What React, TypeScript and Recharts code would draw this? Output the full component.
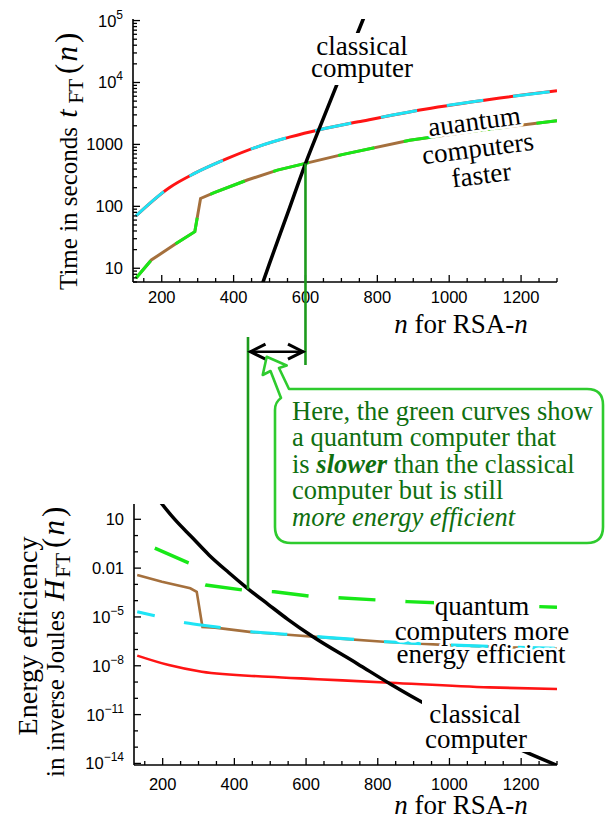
import React from "react";
import { LineChart, Line, XAxis, YAxis } from "recharts";

const SERIF = "Liberation Serif, Tinos, Times New Roman, DejaVu Serif, serif";
const SANS = "Liberation Sans, Arimo, Arial, Helvetica, sans-serif";

// ---------- shared x axis (RSA key size n) ----------
const X_DOMAIN: [number, number] = [120, 1300];
const xMajorTicks = [200, 400, 600, 800, 1000, 1200];
const xMinorTicks = [150, 250, 300, 350, 450, 500, 550, 650, 700, 750, 850, 900, 950, 1050, 1100, 1150, 1250, 1300];

// ---------- top chart: time in seconds ----------
const TIME_DOMAIN: [number, number] = [6, 106000];
const timeMajorTicks = [10, 100, 1000, 10000, 100000];
const timeTickLabels = [["10", ""], ["100", ""], ["1000", ""], ["10", "4"], ["10", "5"]];
const timeMinorTicks = [6, 7, 8, 9, 20, 30, 40, 50, 60, 70, 80, 90, 200, 300, 400, 500, 600, 700, 800, 900,
  2000, 3000, 4000, 5000, 6000, 7000, 8000, 9000, 20000, 30000, 40000, 50000, 60000, 70000, 80000, 90000];

const timeRedN = [128, 221, 291, 383, 466, 558, 642, 747, 932, 1117, 1300];
const timeRedV = [70, 200, 340, 594, 915, 1325, 1745, 2315, 3710, 5380, 7350];
const timeBrownN = [128, 171, 240, 292, 308, 346, 438, 522, 600, 705, 890, 1076, 1300];
const timeBrownV = [6.9, 13.6, 25, 39, 134, 166, 266, 385, 494, 690, 1170, 1660, 2420];
const timeClassicalN = [460, 500, 550, 600, 640, 700, 760, 800];
const timeClassicalV = [2.6, 12, 76, 490, 1900, 14000, 103000, 370000];

// ---------- bottom chart: energy efficiency ----------
const EFF_DOMAIN: [number, number] = [8e-15, 87];
const effMajorTicks = [10, 0.01, 1e-5, 1e-8, 1e-11, 1e-14];
const effTickLabels = [["10", ""], ["0.01", ""], ["10", "\u22125"], ["10", "\u22128"], ["10", "\u221211"], ["10", "\u221214"]];
const effMinorTicks = [1, 0.1, 1e-3, 1e-4, 1e-6, 1e-7, 1e-9, 1e-10, 1e-12, 1e-13];

const effClassicalN = [175, 198, 235, 281, 329, 384, 439, 495, 550, 614, 744, 835, 938, 1085, 1223, 1300];
const effClassicalV = [400, 87, 9.1, 0.81, 0.065, 5.4e-3, 5.2e-4, 5.8e-5, 6.9e-6, 7.2e-7, 1.3e-8, 7.6e-10, 3.9e-11, 9.8e-13, 4.0e-14, 7.6e-15];
const effGreenN = [129, 178, 272, 290, 309, 320, 425, 512, 609, 799, 882, 1300];
const effGreenV = [0.47, 0.17, 0.021, 0.015, 1.1e-3, 9.1e-4, 4.5e-4, 3.5e-4, 1.9e-4, 1.1e-4, 8.7e-5, 3.9e-5];
const effCyanN = [129, 180, 263, 346, 448, 549, 637, 826, 1011, 1300];
const effCyanV = [2.1e-5, 1.15e-5, 4.4e-6, 2.5e-6, 1.23e-6, 8.5e-7, 6.0e-7, 3.0e-7, 1.86e-7, 1.17e-7];
const effBrownN = [129, 198, 277, 295, 311, 346, 448, 549, 637, 826, 1011, 1300];
const effBrownV = [3.8e-3, 1.45e-3, 5.8e-4, 3.5e-4, 2.4e-6, 2.2e-6, 1.17e-6, 8.1e-7, 5.75e-7, 2.9e-7, 1.78e-7, 1.1e-7];
const effRedN = [129, 217, 309, 494, 632, 835, 1112, 1300];
const effRedV = [4.2e-8, 1.1e-8, 4.3e-9, 2.1e-9, 1.5e-9, 9.1e-10, 4.7e-10, 3.7e-10];

// annotation anchors
const slowEfficientN = 438;
const slowEfficientEff = 5.0e-4;
const equalSpeedN = 600;
const equalSpeedTime = 494;

// ---------- layout ----------
const TOP_PLOT = { left: 133, right: 557, top: 19, bottom: 282 };
const TOP_H = 310;
const BOT_Y0 = 470;
const BOT_H = 330;
const BOT_PLOT = { left: 134, right: 557, top: 504, bottom: 765 };

const RED = "#ff1414";
const CYAN = "#1ee4f5";
const BROWN = "#a5703d";
const LIME = "#18e818";
const DKGREEN = "#1c9a1c";

const pts = (ns: number[], vs: number[]) => ns.map((n, i) => ({ n, v: vs[i] }));

const xPx = (plot: any, n: number) =>
  plot.left + ((n - X_DOMAIN[0]) / (X_DOMAIN[1] - X_DOMAIN[0])) * (plot.right - plot.left);
const yPxLog = (plot: any, dom: [number, number], v: number) =>
  plot.top +
  ((Math.log10(dom[1]) - Math.log10(v)) / (Math.log10(dom[1]) - Math.log10(dom[0]))) * (plot.bottom - plot.top);

const near = (a: number, b: number) => Math.abs(a - b) <= Math.abs(b) * 1e-6;

const serifStyle = { fontFamily: SERIF };
const sansStyle = { fontFamily: SANS };

function makeXTick(dir: number, showLabels: boolean, labelDy: number) {
  return (p: any) => {
    const v = p.payload.value;
    const major = xMajorTicks.some((m) => near(v, m));
    const len = major ? 7 : 4;
    return (
      <g>
        <line x1={p.x} x2={p.x} y1={p.y} y2={p.y + dir * len} stroke="#000" strokeWidth={1.3} />
        {showLabels && major && (
          <text x={p.x} y={p.y + labelDy} textAnchor="middle" style={sansStyle} fontSize={16.5} fill="#000">
            {v}
          </text>
        )}
      </g>
    );
  };
}

function makeYTick(majors: number[], labels: string[][] | null, dir: number) {
  return (p: any) => {
    const v = p.payload.value;
    const idx = majors.findIndex((m) => near(v, m));
    const major = idx >= 0;
    const len = major ? 7 : 4;
    return (
      <g>
        <line x1={p.x} x2={p.x + dir * len} y1={p.y} y2={p.y} stroke="#000" strokeWidth={1.3} />
        {labels && major && (
          <text x={p.x - 10} y={p.y + 6} textAnchor="end" style={sansStyle} fontSize={16.5} fill="#000">
            {labels[idx][0]}
            {labels[idx][1] ? (
              <tspan dy={-8} fontSize={12}>
                {labels[idx][1]}
              </tspan>
            ) : null}
          </text>
        )}
      </g>
    );
  };
}

const allX = [...xMajorTicks, ...xMinorTicks].sort((a, b) => a - b);
const allTime = [...timeMajorTicks, ...timeMinorTicks].sort((a, b) => a - b);
const allEff = [...effMajorTicks, ...effMinorTicks].sort((a, b) => a - b);

const axisLine = { stroke: "#000", strokeWidth: 1.6 };

function TopChart() {
  return (
    <LineChart
      width={611}
      height={TOP_H}
      margin={{ top: TOP_PLOT.top, right: 611 - TOP_PLOT.right, bottom: 0, left: 0 }}
    >
      <XAxis xAxisId="b" dataKey="n" type="number" domain={X_DOMAIN} allowDataOverflow ticks={allX} interval={0}
        height={TOP_H - TOP_PLOT.bottom} tickSize={0} tickMargin={0} tickLine={false} axisLine={axisLine}
        tick={makeXTick(-1, true, 21)} />
      <XAxis xAxisId="t" orientation="top" dataKey="n" type="number" domain={X_DOMAIN} allowDataOverflow ticks={allX}
        interval={0} height={0} tickSize={0} tickMargin={0} tickLine={false} axisLine={axisLine}
        tick={makeXTick(1, false, 0)} />
      <YAxis yAxisId="l" type="number" scale="log" domain={TIME_DOMAIN} allowDataOverflow ticks={allTime} interval={0}
        width={TOP_PLOT.left} tickSize={0} tickMargin={0} tickLine={false} axisLine={axisLine}
        tick={makeYTick(timeMajorTicks, timeTickLabels, 1)} />
      <YAxis yAxisId="r" orientation="right" type="number" scale="log" domain={TIME_DOMAIN} allowDataOverflow
        ticks={allTime} interval={0} width={0} tickSize={0} tickMargin={0} tickLine={false} axisLine={axisLine}
        tick={makeYTick(timeMajorTicks, null, -1)} />
      <Line xAxisId="b" yAxisId="l" data={pts(timeRedN, timeRedV)} dataKey="v" stroke={RED} strokeWidth={3}
        dot={false} isAnimationActive={false} type="monotone" />
      <Line xAxisId="b" yAxisId="l" data={pts(timeRedN, timeRedV)} dataKey="v" stroke={CYAN} strokeWidth={3}
        strokeDasharray="37 30" dot={false} isAnimationActive={false} type="monotone" />
      <Line xAxisId="b" yAxisId="l" data={pts(timeBrownN, timeBrownV)} dataKey="v" stroke={BROWN} strokeWidth={3}
        dot={false} isAnimationActive={false} type="linear" />
      <Line xAxisId="b" yAxisId="l" data={pts(timeBrownN, timeBrownV)} dataKey="v" stroke={LIME} strokeWidth={3}
        strokeDasharray="37 30" strokeDashoffset={14} dot={false} isAnimationActive={false} type="linear" />
      <Line xAxisId="b" yAxisId="l" data={pts(timeClassicalN, timeClassicalV)} dataKey="v" stroke="#000"
        strokeWidth={3.5} dot={false} isAnimationActive={false} type="monotone" />
    </LineChart>
  );
}

function BottomChart() {
  const rel = BOT_PLOT.top - BOT_Y0;
  return (
    <LineChart
      width={611}
      height={BOT_H}
      margin={{ top: rel, right: 611 - BOT_PLOT.right, bottom: 0, left: 0 }}
    >
      <XAxis xAxisId="b" dataKey="n" type="number" domain={X_DOMAIN} allowDataOverflow ticks={allX} interval={0}
        height={BOT_Y0 + BOT_H - BOT_PLOT.bottom} tickSize={0} tickMargin={0} tickLine={false} axisLine={axisLine}
        tick={makeXTick(-1, true, 25)} />
      <XAxis xAxisId="t" orientation="top" dataKey="n" type="number" domain={X_DOMAIN} allowDataOverflow ticks={allX}
        interval={0} height={0} tickSize={0} tickMargin={0} tickLine={false} axisLine={axisLine}
        tick={makeXTick(1, false, 0)} />
      <YAxis yAxisId="l" type="number" scale="log" domain={EFF_DOMAIN} allowDataOverflow ticks={allEff} interval={0}
        width={BOT_PLOT.left} tickSize={0} tickMargin={0} tickLine={false} axisLine={axisLine}
        tick={makeYTick(effMajorTicks, effTickLabels, 1)} />
      <YAxis yAxisId="r" orientation="right" type="number" scale="log" domain={EFF_DOMAIN} allowDataOverflow
        ticks={allEff} interval={0} width={0} tickSize={0} tickMargin={0} tickLine={false} axisLine={axisLine}
        tick={makeYTick(effMajorTicks, null, -1)} />
      <Line xAxisId="b" yAxisId="l" data={pts(effRedN, effRedV)} dataKey="v" stroke={RED} strokeWidth={2.6}
        dot={false} isAnimationActive={false} type="monotone" />
      <Line xAxisId="b" yAxisId="l" data={pts(effBrownN, effBrownV)} dataKey="v" stroke={BROWN} strokeWidth={2.6}
        dot={false} isAnimationActive={false} type="linear" />
      <Line xAxisId="b" yAxisId="l" data={pts(effCyanN, effCyanV)} dataKey="v" stroke={CYAN} strokeWidth={3.2}
        strokeDasharray="37 30" strokeDashoffset={19} dot={false} isAnimationActive={false} type="monotone" />
      <Line xAxisId="b" yAxisId="l" data={pts(effGreenN, effGreenV)} dataKey="v" stroke={LIME} strokeWidth={3.4}
        strokeDasharray="37 30" strokeDashoffset={48} dot={false} isAnimationActive={false} type="linear" />
      <Line xAxisId="b" yAxisId="l" data={pts(effClassicalN, effClassicalV)} dataKey="v" stroke="#000"
        strokeWidth={3.5} dot={false} isAnimationActive={false} type="monotone" />
    </LineChart>
  );
}

function Overlay() {
  const lineAx = xPx(BOT_PLOT, slowEfficientN);
  const lineAy = yPxLog(BOT_PLOT, EFF_DOMAIN, slowEfficientEff);
  const lineBx = xPx(TOP_PLOT, equalSpeedN);
  const lineBy = yPxLog(TOP_PLOT, TIME_DOMAIN, equalSpeedTime);
  const arrowY = 351.7;
  const a1 = lineAx + 1.5;
  const a2 = lineBx - 1.5;
  const halo = { stroke: "#fff", strokeWidth: 5, paintOrder: "stroke" as any, strokeLinejoin: "round" as any };
  const calloutPath =
    "M 289 389 L 587 389 Q 603 389 603 405 L 603 527 Q 603 543 587 543 L 291 543 Q 275 543 275 527 " +
    "L 275 410 Q 275 402 281 398 L 270.5 371 L 262.7 375 L 266.7 356.7 L 286.7 365.5 L 279 368 Z";
  const calloutFill = "#0f6f0f";
  const lx = 292;
  const lb = 419.5;
  const ls = 26.6;
  return (
    <svg width={611} height={823} style={{ position: "absolute", left: 0, top: 0 }}>
      {/* axis titles */}
      <text transform="translate(77,290) rotate(-90)" style={serifStyle} fontSize={25} fill="#000">
        {"Time in seconds "}
        <tspan fontStyle="italic" fontSize={30} dx={3}>t</tspan>
        <tspan fontSize={21} dy={6} dx={6}>FT</tspan>
        <tspan fontSize={31} dy={-6} dx={5}>(</tspan>
        <tspan fontStyle="italic" fontSize={31} dx={2}>n</tspan>
        <tspan fontSize={31} dx={3}>)</tspan>
      </text>
      <text x={461} y={333} textAnchor="middle" style={serifStyle} fontSize={27} fill="#000">
        <tspan fontStyle="italic">n</tspan>
        {" for RSA-"}
        <tspan fontStyle="italic">n</tspan>
      </text>
      <text transform="translate(37,636) rotate(-90)" textAnchor="middle" style={serifStyle} fontSize={28} fill="#000">
        Energy efficiency
      </text>
      <text transform="translate(64,777) rotate(-90)" style={serifStyle} fontSize={25} fill="#000">
        {"in inverse Joules "}
        <tspan fontStyle="italic" fontSize={30} dx={3}>H</tspan>
        <tspan fontSize={21} dy={6} dx={2}>FT</tspan>
        <tspan fontSize={31} dy={-6} dx={5}>(</tspan>
        <tspan fontStyle="italic" fontSize={31} dx={2}>n</tspan>
        <tspan fontSize={31} dx={3}>)</tspan>
      </text>
      <text x={461} y={814} textAnchor="middle" style={serifStyle} fontSize={27} fill="#000">
        <tspan fontStyle="italic">n</tspan>
        {" for RSA-"}
        <tspan fontStyle="italic">n</tspan>
      </text>

      {/* top chart labels */}
      <rect x={309} y={33} width={107} height={52} fill="#fff" />
      <text x={362} y={55} textAnchor="middle" style={serifStyle} fontSize={27} fill="#000">classical</text>
      <text x={362} y={77} textAnchor="middle" style={serifStyle} fontSize={27} fill="#000">computer</text>
      <g transform="translate(478,150) rotate(-7.5)" style={serifStyle} fontSize={27} fill="#000">
        <text x={0} y={-20} textAnchor="middle" {...halo}>auantum</text>
        <text x={0} y={7} textAnchor="middle" {...halo}>computers</text>
        <text x={0} y={34} textAnchor="middle" {...halo}>faster</text>
      </g>

      {/* bottom chart labels */}
      <rect x={434} y={594} width={97} height={25} fill="#fff" />
      <text x={482} y={615} textAnchor="middle" style={serifStyle} fontSize={27} fill="#000">quantum</text>
      <text x={482} y={640} textAnchor="middle" style={serifStyle} fontSize={27} fill="#000" {...halo}>computers more</text>
      <text x={481} y={663} textAnchor="middle" style={serifStyle} fontSize={27} fill="#000" {...halo}>energy efficient</text>
      <rect x={422} y={700} width={110} height={52} fill="#fff" />
      <text x={475} y={723} textAnchor="middle" style={serifStyle} fontSize={27} fill="#000">classical</text>
      <text x={476} y={748} textAnchor="middle" style={serifStyle} fontSize={27} fill="#000">computer</text>

      {/* connector lines */}
      <line x1={lineBx} x2={lineBx} y1={lineBy} y2={365} stroke={DKGREEN} strokeWidth={2.6} />
      <line x1={lineAx} x2={lineAx} y1={337} y2={lineAy} stroke={DKGREEN} strokeWidth={2.6} />
      <line x1={a1} x2={a2} y1={arrowY} y2={arrowY} stroke="#000" strokeWidth={2.4} />
      <polyline points={`${a1 + 16},${arrowY - 7.5} ${a1 + 1},${arrowY} ${a1 + 16},${arrowY + 7.5}`} fill="none"
        stroke="#000" strokeWidth={3} strokeLinejoin="miter" />
      <polyline points={`${a2 - 16},${arrowY - 7.5} ${a2 - 1},${arrowY} ${a2 - 16},${arrowY + 7.5}`} fill="none"
        stroke="#000" strokeWidth={3} strokeLinejoin="miter" />

      {/* callout */}
      <path d={calloutPath} fill="#fff" stroke="#2ecb2e" strokeWidth={2.6} strokeLinejoin="round" />
      <g style={serifStyle} fontSize={26.5} fill={calloutFill}>
        <text x={lx} y={lb}>Here, the green curves show</text>
        <text x={lx} y={lb + ls}>a quantum computer that</text>
        <text x={lx} y={lb + 2 * ls}>
          {"is "}
          <tspan fontWeight="bold" fontStyle="italic">slower</tspan>
          {" than the classical"}
        </text>
        <text x={lx} y={lb + 3 * ls}>computer but is still</text>
        <text x={lx} y={lb + 4 * ls} fontStyle="italic">more energy efficient</text>
      </g>
    </svg>
  );
}

export default function App() {
  return (
    <div style={{ position: "absolute", left: 0, top: 0, width: 611, height: 823, background: "#fff" }}>
      <div style={{ position: "absolute", left: 0, top: 0 }}>
        <TopChart />
      </div>
      <div style={{ position: "absolute", left: 0, top: BOT_Y0 }}>
        <BottomChart />
      </div>
      <Overlay />
    </div>
  );
}
